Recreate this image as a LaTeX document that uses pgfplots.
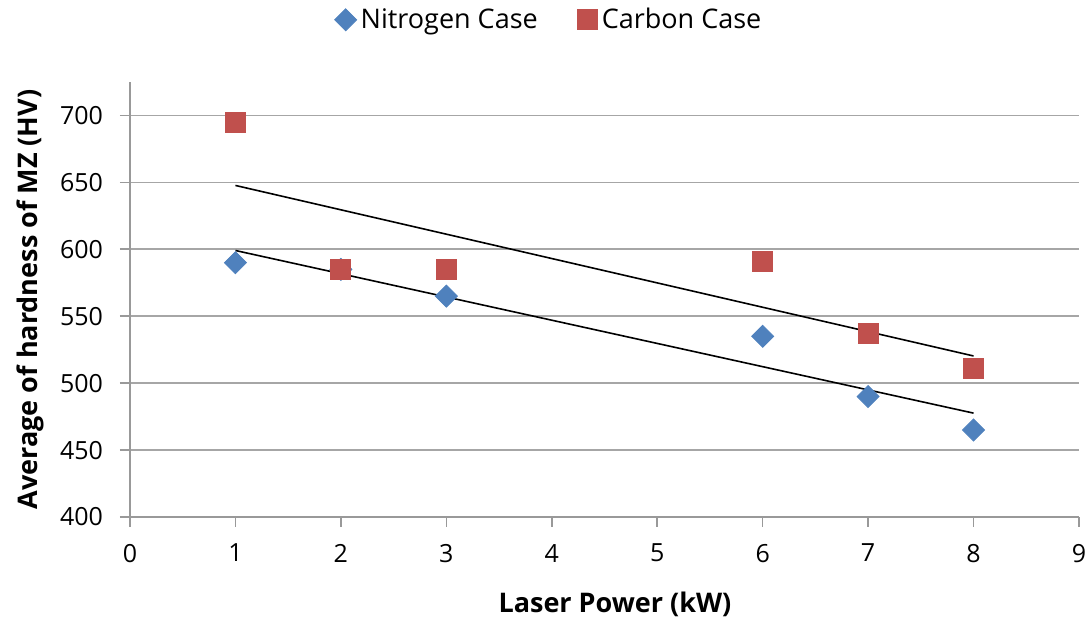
\documentclass[border=0pt]{standalone}
\usepackage{fontspec}
\setmainfont{Open Sans}
\usepackage{pgfplots}
\pgfplotsset{compat=1.18}
\definecolor{nblue}{RGB}{79,129,189}
\definecolor{cred}{RGB}{192,80,77}
\begin{document}
\begin{tikzpicture}
\useasboundingbox (-65pt,-54pt) rectangle (481pt,258.5pt);
\begin{axis}[
  at={(0,0)}, anchor=south west,
  scale only axis, width=474.5pt, height=217.5pt,
  xmin=0, xmax=9, ymin=400, ymax=725,
  xtick={0,1,...,9}, ytick={400,450,...,700},
  axis x line*=bottom, axis y line*=left,
  axis line style={-, draw=gray!80, line width=0.8pt},
  ymajorgrids, grid style={draw=gray!70, line width=0.8pt},
  tick style={draw=gray!80, line width=0.8pt},
  tick align=outside, major tick length=5pt,
  ticklabel style={font=\fontsize{12.5}{14}\selectfont},
  xticklabel style={yshift=-5pt},
  yticklabel style={xshift=-5pt},
  /pgf/number format/assume math mode=true,
  xlabel={\textbf{Laser Power (kW)}},
  ylabel={\textbf{Average of hardness of MZ (HV)}},
  xlabel style={at={(axis description cs:0.511,-0.202)}, anchor=center, font=\fontsize{13.5}{15}\selectfont},
  ylabel style={at={(axis description cs:-0.105,0.5)}, anchor=center, rotate=0, font=\fontsize{13.5}{15}\selectfont},
  legend columns=2,
  legend style={at={(0.4426,1.143)}, anchor=center, draw=none, fill=none,
    font=\fontsize{13.5}{15}\selectfont, /tikz/every even column/.append style={column sep=18pt}},
  legend cell align=left,
  clip=false,
]
\addplot[only marks, mark=square*, mark size=3.9pt, mark options={rotate=45, fill=nblue, draw=nblue}]
  coordinates {(1,590) (2,585) (3,565) (6,535) (7,490) (8,465)};
\addlegendentry{Nitrogen Case}
\addplot[only marks, mark=square*, mark size=5pt, mark options={fill=cred, draw=cred}]
  coordinates {(1,695) (2,585) (3,585) (6,591) (7,537) (8,511)};
\addlegendentry{Carbon Case}
\addplot[black, line width=0.8pt, forget plot] coordinates {(1,599.1) (8,477.6)};
\addplot[black, line width=0.8pt, forget plot] coordinates {(1,647.7) (8,520.3)};
\end{axis}
\end{tikzpicture}
\end{document}
